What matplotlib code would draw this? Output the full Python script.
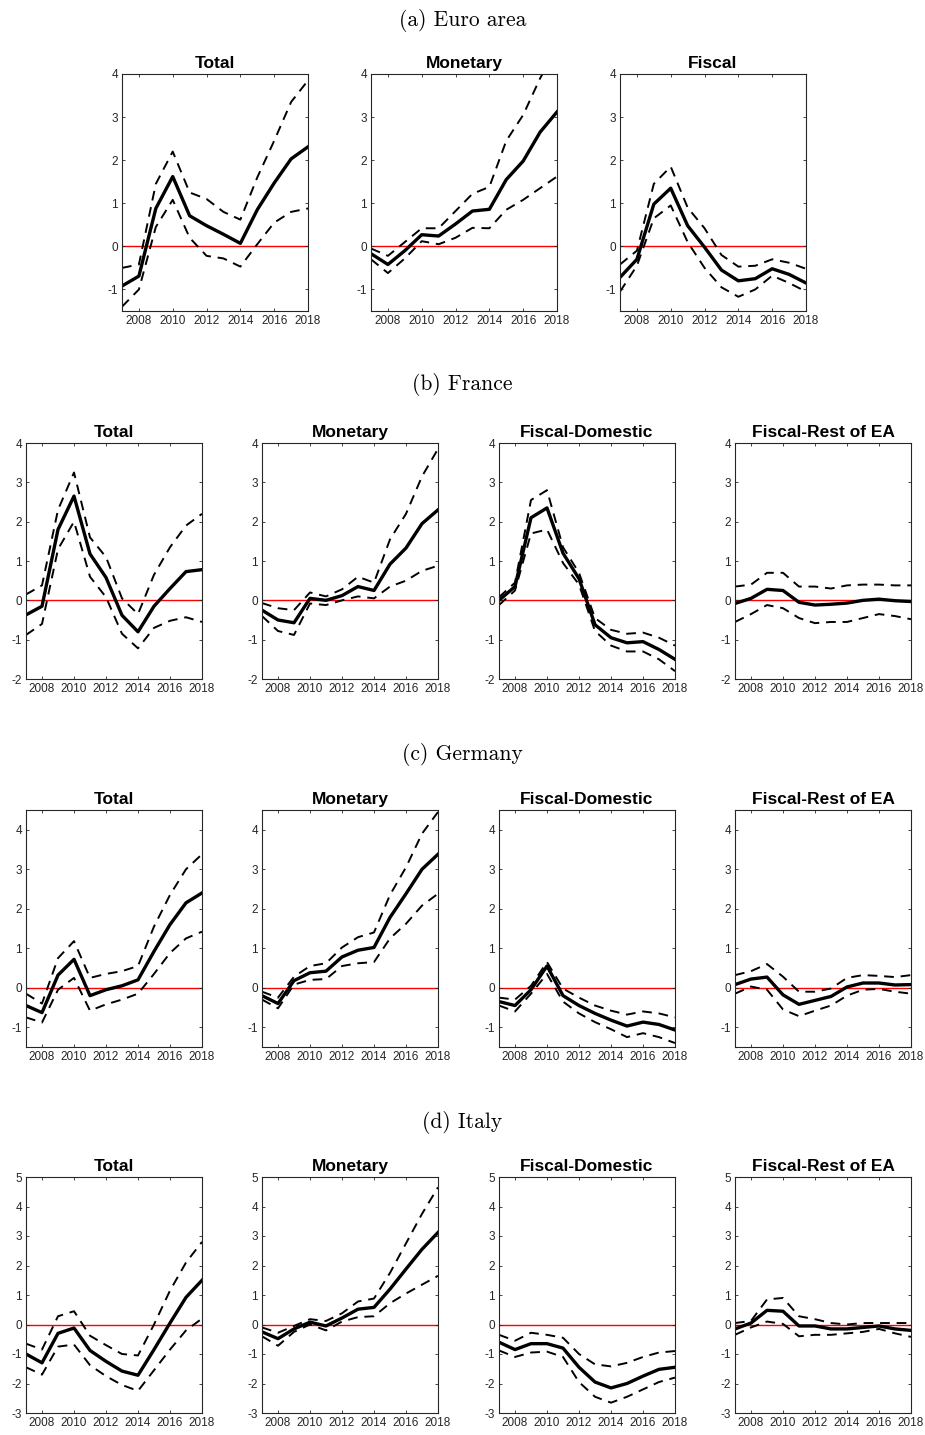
import numpy as np
import matplotlib
matplotlib.use('Agg')
from matplotlib import pyplot as plt

years = np.arange(2007, 2019)

# Euro area
ea_total = [-0.92, -0.69, 0.88, 1.62, 0.71, 0.48, 0.28, 0.07, 0.85, 1.47, 2.03, 2.31]
ea_total_hi = [-0.50, -0.42, 1.45, 2.20, 1.25, 1.10, 0.80, 0.62, 1.60, 2.45, 3.35, 3.85]
ea_total_lo = [-1.40, -1.00, 0.45, 1.08, 0.20, -0.22, -0.28, -0.47, 0.05, 0.55, 0.80, 0.88]

ea_mon = [-0.17, -0.42, -0.10, 0.27, 0.24, 0.52, 0.82, 0.86, 1.55, 1.98, 2.65, 3.12]
ea_mon_hi = [-0.05, -0.22, 0.10, 0.42, 0.42, 0.82, 1.22, 1.38, 2.45, 3.05, 3.90, 4.60]
ea_mon_lo = [-0.30, -0.62, -0.28, 0.12, 0.05, 0.20, 0.43, 0.42, 0.85, 1.08, 1.35, 1.62]

ea_fis = [-0.72, -0.30, 0.98, 1.35, 0.48, -0.02, -0.55, -0.80, -0.75, -0.52, -0.65, -0.85]
ea_fis_hi = [-0.42, -0.10, 1.45, 1.85, 0.90, 0.42, -0.20, -0.47, -0.45, -0.30, -0.38, -0.52]
ea_fis_lo = [-1.05, -0.45, 0.65, 0.95, 0.10, -0.50, -0.95, -1.17, -1.00, -0.68, -0.85, -1.05]

# France
fr_total = [-0.37, -0.15, 1.80, 2.65, 1.18, 0.58, -0.38, -0.80, -0.15, 0.30, 0.73, 0.78]
fr_total_hi = [0.15, 0.38, 2.30, 3.25, 1.60, 1.10, 0.05, -0.35, 0.65, 1.35, 1.90, 2.20]
fr_total_lo = [-0.88, -0.60, 1.30, 2.00, 0.60, 0.08, -0.85, -1.22, -0.70, -0.52, -0.43, -0.55]

fr_mon = [-0.25, -0.50, -0.57, 0.05, 0.00, 0.12, 0.35, 0.25, 0.92, 1.33, 1.95, 2.30]
fr_mon_hi = [-0.07, -0.20, -0.25, 0.20, 0.10, 0.28, 0.60, 0.45, 1.55, 2.20, 3.15, 3.85]
fr_mon_lo = [-0.40, -0.78, -0.88, -0.08, -0.12, 0.00, 0.10, 0.05, 0.35, 0.50, 0.75, 0.88]

fr_dom = [0.00, 0.35, 2.10, 2.35, 1.20, 0.55, -0.62, -0.95, -1.08, -1.05, -1.25, -1.50]
fr_dom_hi = [0.08, 0.45, 2.55, 2.80, 1.35, 0.70, -0.45, -0.75, -0.85, -0.82, -0.95, -1.15]
fr_dom_lo = [-0.12, 0.25, 1.70, 1.80, 0.95, 0.40, -0.78, -1.15, -1.30, -1.30, -1.50, -1.80]

fr_rest = [-0.08, 0.05, 0.28, 0.25, -0.05, -0.12, -0.10, -0.07, 0.00, 0.03, -0.01, -0.03]
fr_rest_hi = [0.35, 0.40, 0.70, 0.70, 0.35, 0.35, 0.30, 0.38, 0.40, 0.40, 0.38, 0.38]
fr_rest_lo = [-0.55, -0.35, -0.12, -0.20, -0.45, -0.58, -0.55, -0.55, -0.45, -0.35, -0.40, -0.48]

# Germany
de_total = [-0.45, -0.63, 0.32, 0.72, -0.20, -0.05, 0.05, 0.20, 0.92, 1.60, 2.15, 2.40]
de_total_hi = [-0.15, -0.40, 0.75, 1.18, 0.25, 0.35, 0.42, 0.55, 1.55, 2.35, 3.00, 3.38]
de_total_lo = [-0.75, -0.88, -0.05, 0.25, -0.58, -0.42, -0.30, -0.15, 0.35, 0.88, 1.25, 1.42]

de_mon = [-0.20, -0.40, 0.18, 0.38, 0.42, 0.78, 0.95, 1.02, 1.78, 2.38, 3.00, 3.38]
de_mon_hi = [-0.10, -0.25, 0.28, 0.55, 0.62, 1.02, 1.28, 1.40, 2.35, 3.05, 3.90, 4.45]
de_mon_lo = [-0.30, -0.52, 0.08, 0.20, 0.22, 0.55, 0.62, 0.65, 1.25, 1.62, 2.08, 2.38]

de_dom = [-0.35, -0.45, -0.05, 0.55, -0.20, -0.45, -0.65, -0.82, -0.97, -0.87, -0.93, -1.07]
de_dom_hi = [-0.25, -0.30, 0.05, 0.65, -0.02, -0.25, -0.45, -0.58, -0.68, -0.60, -0.65, -0.75]
de_dom_lo = [-0.45, -0.60, -0.15, 0.35, -0.35, -0.65, -0.87, -1.05, -1.25, -1.15, -1.25, -1.40]

de_rest = [0.08, 0.22, 0.27, -0.18, -0.42, -0.32, -0.22, 0.02, 0.12, 0.12, 0.07, 0.08]
de_rest_hi = [0.32, 0.42, 0.60, 0.28, -0.10, -0.10, -0.02, 0.25, 0.32, 0.30, 0.27, 0.32]
de_rest_lo = [-0.15, 0.03, -0.05, -0.55, -0.72, -0.58, -0.45, -0.20, -0.05, -0.03, -0.10, -0.15]

# Italy
it_total = [-1.00, -1.30, -0.30, -0.12, -0.88, -1.25, -1.58, -1.72, -0.85, 0.05, 0.92, 1.50]
it_total_hi = [-0.65, -0.85, 0.28, 0.45, -0.38, -0.70, -1.00, -1.05, 0.00, 1.15, 2.10, 2.80]
it_total_lo = [-1.45, -1.70, -0.75, -0.68, -1.38, -1.75, -2.05, -2.25, -1.55, -0.85, -0.20, 0.20]

it_mon = [-0.25, -0.48, -0.15, 0.08, -0.05, 0.22, 0.52, 0.58, 1.20, 1.88, 2.55, 3.12]
it_mon_hi = [-0.10, -0.28, -0.05, 0.18, 0.12, 0.38, 0.78, 0.88, 1.75, 2.75, 3.75, 4.65]
it_mon_lo = [-0.40, -0.72, -0.25, 0.00, -0.20, 0.10, 0.25, 0.28, 0.72, 1.05, 1.35, 1.65]

it_dom = [-0.60, -0.85, -0.65, -0.65, -0.80, -1.45, -1.95, -2.15, -2.00, -1.75, -1.52, -1.45]
it_dom_hi = [-0.35, -0.55, -0.28, -0.35, -0.45, -1.00, -1.35, -1.42, -1.30, -1.10, -0.95, -0.90]
it_dom_lo = [-0.88, -1.10, -0.95, -0.92, -1.10, -1.95, -2.45, -2.65, -2.45, -2.20, -1.95, -1.80]

it_rest = [-0.15, 0.05, 0.48, 0.45, -0.05, -0.05, -0.15, -0.15, -0.10, -0.05, -0.15, -0.20]
it_rest_hi = [0.05, 0.12, 0.85, 0.90, 0.28, 0.18, 0.05, 0.00, 0.05, 0.05, 0.05, 0.05]
it_rest_lo = [-0.35, -0.10, 0.10, 0.02, -0.40, -0.35, -0.35, -0.30, -0.25, -0.15, -0.30, -0.42]

titles3 = ['Total', 'Monetary', 'Fiscal']
titles4 = ['Total', 'Monetary', 'Fiscal-Domestic', 'Fiscal-Rest of EA']

rows = [
    ('(a) Euro area', titles3, [(ea_total, ea_total_hi, ea_total_lo),
                                (ea_mon, ea_mon_hi, ea_mon_lo),
                                (ea_fis, ea_fis_hi, ea_fis_lo)], (-1.5, 4), range(-1, 5)),
    ('(b) France', titles4, [(fr_total, fr_total_hi, fr_total_lo),
                             (fr_mon, fr_mon_hi, fr_mon_lo),
                             (fr_dom, fr_dom_hi, fr_dom_lo),
                             (fr_rest, fr_rest_hi, fr_rest_lo)], (-2, 4), range(-2, 5)),
    ('(c) Germany', titles4, [(de_total, de_total_hi, de_total_lo),
                              (de_mon, de_mon_hi, de_mon_lo),
                              (de_dom, de_dom_hi, de_dom_lo),
                              (de_rest, de_rest_hi, de_rest_lo)], (-1.5, 4.5), range(-1, 5)),
    ('(d) Italy', titles4, [(it_total, it_total_hi, it_total_lo),
                            (it_mon, it_mon_hi, it_mon_lo),
                            (it_dom, it_dom_hi, it_dom_lo),
                            (it_rest, it_rest_hi, it_rest_lo)], (-3, 5), range(-3, 6)),
]

plt.rcParams['font.family'] = ['Liberation Sans', 'DejaVu Sans']
plt.rcParams['axes.unicode_minus'] = False

W, H = 925, 1435
fig = plt.figure(figsize=(W / 100, H / 100), dpi=100)

# pixel boxes of the panels: lefts, width, top, bottom
lefts3 = [122, 371, 620]
lefts4 = [26, 262, 499, 735]
row_tops = [74, 443, 810, 1177]
row_bots = [311, 679, 1047, 1413]
head_y = [20, 385, 755, 1123]
gray = '#262626'

for r, (head, titles, panels, ylim, yticks) in enumerate(rows):
    fig.text(0.5, 1 - head_y[r] / H, head, ha='center', va='center',
             fontsize=15.5, family='cmr10')
    lefts = lefts3 if len(panels) == 3 else lefts4
    width = 186 if len(panels) == 3 else 176
    for i, (med, hi, lo) in enumerate(panels):
        ax = fig.add_axes([lefts[i] / W, 1 - row_bots[r] / H,
                           width / W, (row_bots[r] - row_tops[r]) / H])
        ax.axhline(0, color='r', lw=1.0, zorder=1)
        ax.plot(years, hi, 'k', lw=1.4, dashes=(5, 3.5))
        ax.plot(years, lo, 'k', lw=1.4, dashes=(5, 3.5))
        ax.plot(years, med, 'k', lw=2.4)
        ax.set_xlim(2007, 2018)
        ax.set_ylim(*ylim)
        ax.set_xticks(range(2008, 2019, 2))
        ax.set_yticks(list(yticks))
        ax.tick_params(direction='in', length=2.5, width=0.6, colors=gray,
                       labelsize=8.5, top=True, right=True, pad=3)
        for s in ax.spines.values():
            s.set_color(gray)
            s.set_linewidth(0.8)
        ax.set_title(titles[i], fontsize=12.5, fontweight='bold', pad=4)

fig.savefig('out.png', dpi=100)
